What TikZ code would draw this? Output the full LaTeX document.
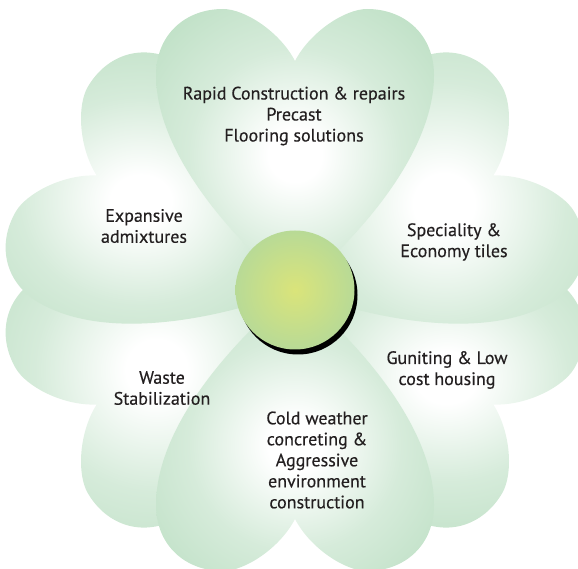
\documentclass[tikz,border=0pt]{standalone}
\usepackage{fontspec}
\setmainfont{PT Sans}[BoldFont=PT Sans,BoldFeatures={FakeBold=0.35}]
\definecolor{cpetal}{RGB}{180,219,188}
\definecolor{chubin}{RGB}{218,228,122}
\definecolor{chubout}{RGB}{184,218,150}
\definecolor{ctext}{RGB}{35,31,32}
\pgfdeclareradialshading{petalglow}{\pgfpointorigin}{color(0bp)=(white); color(3bp)=(white); color(12bp)=(cpetal!55!white); color(25bp)=(cpetal); color(50bp)=(cpetal)}
\pgfdeclareradialshading{hubglow}{\pgfpointorigin}{color(0bp)=(chubin); color(25bp)=(chubout); color(50bp)=(chubout)}
% one heart shaped petal, tip at the origin, lobes up
\newcommand{\petalpath}{(0,0) .. controls (50,40) and (139,130) .. (139,215)
  .. controls (139,255) and (110,281) .. (72,281)
  .. controls (50,281) and (15,258) .. (0,229)
  .. controls (-15,258) and (-50,281) .. (-72,281)
  .. controls (-110,281) and (-139,255) .. (-139,215)
  .. controls (-139,130) and (-50,40) .. (0,0) -- cycle}

\begin{document}
\begin{tikzpicture}[x=1pt,y=1pt,
  petaltext/.style={text=ctext,align=center,inner sep=0pt,font=\fontsize{18}{21}\selectfont\bfseries},
  hubdisc/.style={circle,inner sep=0pt,minimum size=119pt}]
  \useasboundingbox (0,0) rectangle (578,568);
  \coordinate (mid) at (295,278);
  % petals, back ones first; \spot is where the petal is palest
  \foreach \ang/\spot in {210/160,330/175,150/178,30/172,270/155,90/135}{
    \begin{scope}[shift={(mid)},rotate=\ang-90]
      \clip \petalpath;
      \shade[shading=petalglow] (0,\spot) circle (222);
    \end{scope}
  }
  % centre disc with its shadow
  \node[hubdisc,fill=black,xshift=3pt,yshift=-5pt] (hubshadow) at (mid) {};
  \node[hubdisc,shading=hubglow] (hub) at (mid) {};
  % labels
  \node[petaltext] (rapid) at (294,452) {Rapid Construction \& repairs\\Precast\\Flooring solutions};
  \node[petaltext] (expansive) at (144,342) {Expansive\\admixtures};
  \node[petaltext] (speciality) at (454,326) {Speciality \&\\Economy tiles};
  \node[petaltext] (guniting) at (447,198) {Guniting \& Low\\cost housing};
  \node[petaltext] (waste) at (162,180) {Waste\\Stabilization};
  \node[petaltext] (cold) at (317,108) {Cold weather\\concreting \&\\Aggressive\\environment\\construction};
\end{tikzpicture}
\end{document}
